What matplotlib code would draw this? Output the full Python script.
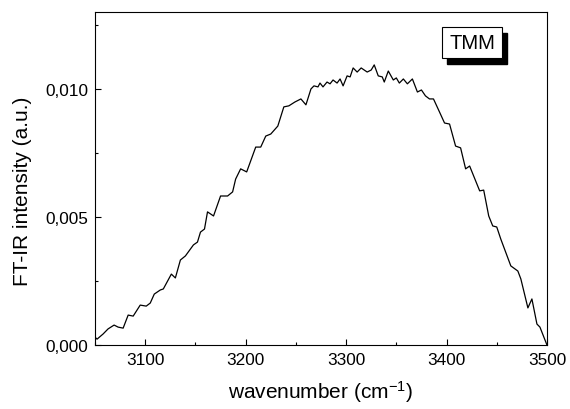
import matplotlib
matplotlib.use("Agg")
import matplotlib.pyplot as plt
from matplotlib.patches import Rectangle
from matplotlib.ticker import MultipleLocator, FuncFormatter

# FT-IR spectrum
wavenumber = [3050, 3052, 3058, 3063, 3069, 3073, 3078, 3083, 3088, 3095,
              3101, 3105, 3109, 3115, 3118, 3126, 3130, 3135, 3140, 3148,
              3152, 3155, 3159, 3162, 3168, 3175, 3182, 3187, 3190, 3195,
              3201, 3210, 3215, 3220, 3225, 3232, 3238, 3243, 3249, 3255,
              3260, 3265, 3268, 3272, 3274, 3277, 3281, 3284, 3287, 3291,
              3294, 3297, 3301, 3304, 3307, 3311, 3315, 3321, 3325, 3328,
              3332, 3336, 3338, 3342, 3347, 3350, 3353, 3357, 3361, 3366,
              3371, 3375, 3379, 3383, 3387, 3393, 3398, 3403, 3409, 3414,
              3419, 3423, 3433, 3437, 3442, 3446, 3450, 3454, 3464, 3471,
              3474, 3481, 3485, 3490, 3493, 3500]
intensity = [0.00031, 0.00023, 0.00043, 0.00063, 0.00078, 0.00070, 0.00066, 0.00117, 0.00113, 0.00156,
             0.00152, 0.00164, 0.00199, 0.00215, 0.00219, 0.00277, 0.00262, 0.00332, 0.00348, 0.00391,
             0.00402, 0.00441, 0.00453, 0.00520, 0.00504, 0.00582, 0.00582, 0.00598, 0.00648, 0.00688,
             0.00676, 0.00773, 0.00773, 0.00816, 0.00824, 0.00855, 0.00930, 0.00934, 0.00949, 0.00961,
             0.00938, 0.01000, 0.01012, 0.01008, 0.01023, 0.01008, 0.01027, 0.01020, 0.01035, 0.01023,
             0.01039, 0.01012, 0.01051, 0.01047, 0.01082, 0.01066, 0.01082, 0.01066, 0.01074, 0.01094,
             0.01051, 0.01047, 0.01027, 0.01070, 0.01035, 0.01043, 0.01023, 0.01039, 0.01020, 0.01039,
             0.00988, 0.00996, 0.00973, 0.00961, 0.00961, 0.00910, 0.00867, 0.00863, 0.00777, 0.00770,
             0.00688, 0.00699, 0.00602, 0.00605, 0.00504, 0.00465, 0.00461, 0.00414, 0.00309, 0.00289,
             0.00258, 0.00145, 0.00180, 0.00082, 0.00070, 0.0]

sample = "TMM"

plt.rcParams['font.family'] = ['Liberation Sans', 'DejaVu Sans']
plt.rcParams['mathtext.default'] = 'regular'

fig = plt.figure(figsize=(5.7, 4.1), dpi=100)
ax = fig.add_axes([0.1667, 0.156, 0.7929, 0.812])

ax.plot(wavenumber, intensity, color='black', lw=0.9)

ax.set_xlim(3050, 3500)
ax.set_ylim(0, 0.013)
ax.xaxis.set_major_locator(MultipleLocator(100))
ax.xaxis.set_minor_locator(MultipleLocator(50))
ax.yaxis.set_major_locator(MultipleLocator(0.005))
ax.yaxis.set_minor_locator(MultipleLocator(0.0025))
ax.yaxis.set_major_formatter(FuncFormatter(lambda v, p: ("%.3f" % v).replace('.', ',')))
ax.tick_params(which='both', direction='in', top=False, right=False, labelsize=12.4, width=0.8)
ax.tick_params(which='major', length=4.5, pad=5)
ax.tick_params(which='minor', length=2.5)
for s in ax.spines.values():
    s.set_linewidth(0.8)

ax.set_xlabel("wavenumber (cm$^{-1}$)", fontsize=15)
ax.set_ylabel("FT-IR intensity (a.u.)", fontsize=15)
ax.xaxis.set_label_coords(0.5, -0.10)
ax.yaxis.set_label_coords(-0.14, 0.464)

# label box with black drop shadow
x0, y0, w, h = 0.768, 0.862, 0.133, 0.093
ax.add_patch(Rectangle((x0 + 0.011, y0 - 0.018), w, h, transform=ax.transAxes,
                       facecolor='black', edgecolor='black', zorder=3))
ax.add_patch(Rectangle((x0, y0), w, h, transform=ax.transAxes,
                       facecolor='white', edgecolor='black', lw=0.8, zorder=4))
ax.text(x0 + w / 2, y0 + h / 2, sample, transform=ax.transAxes, ha='center', va='center',
        fontsize=14.5, zorder=5)

fig.savefig("out.png", dpi=100)
